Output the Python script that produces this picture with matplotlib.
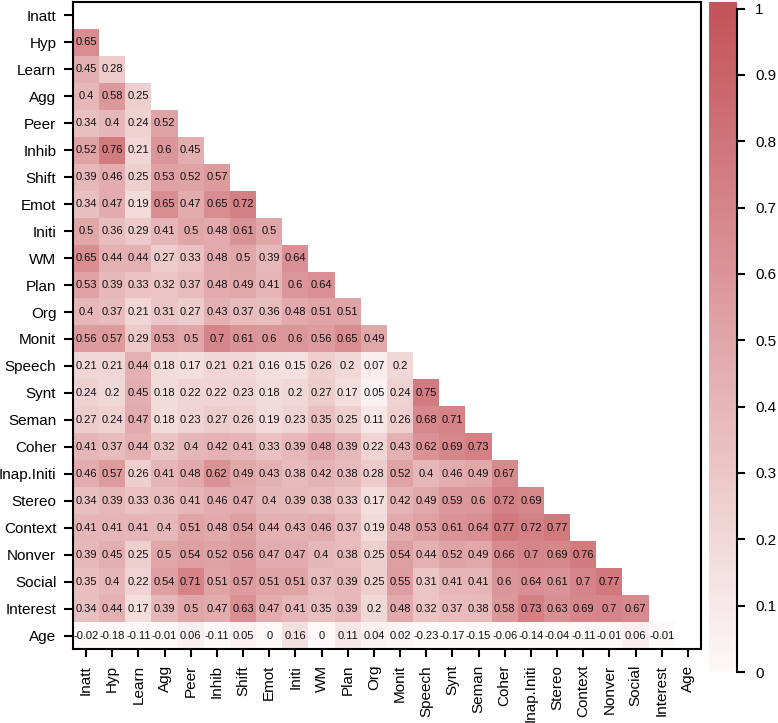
import numpy as np
import matplotlib
matplotlib.use("Agg")
import matplotlib.pyplot as plt
from matplotlib.colors import LinearSegmentedColormap

plt.rcParams['font.family'] = ['Liberation Sans', 'DejaVu Sans']

# 变量名
labels = ["Inatt", "Hyp", "Learn", "Agg", "Peer", "Inhib", "Shift", "Emot",
          "Initi", "WM", "Plan", "Org", "Monit", "Speech", "Synt", "Seman",
          "Coher", "Inap.Initi", "Stereo", "Context", "Nonver", "Social",
          "Interest", "Age"]

# 下三角相关系数（逐行）
lower_rows = [
    [],
    [0.65],
    [0.45, 0.28],
    [0.4, 0.58, 0.25],
    [0.34, 0.4, 0.24, 0.52],
    [0.52, 0.76, 0.21, 0.6, 0.45],
    [0.39, 0.46, 0.25, 0.53, 0.52, 0.57],
    [0.34, 0.47, 0.19, 0.65, 0.47, 0.65, 0.72],
    [0.5, 0.36, 0.29, 0.41, 0.5, 0.48, 0.61, 0.5],
    [0.65, 0.44, 0.44, 0.27, 0.33, 0.48, 0.5, 0.39, 0.64],
    [0.53, 0.39, 0.33, 0.32, 0.37, 0.48, 0.49, 0.41, 0.6, 0.64],
    [0.4, 0.37, 0.21, 0.31, 0.27, 0.43, 0.37, 0.36, 0.48, 0.51, 0.51],
    [0.56, 0.57, 0.29, 0.53, 0.5, 0.7, 0.61, 0.6, 0.6, 0.56, 0.65, 0.49],
    [0.21, 0.21, 0.44, 0.18, 0.17, 0.21, 0.21, 0.16, 0.15, 0.26, 0.2, 0.07, 0.2],
    [0.24, 0.2, 0.45, 0.18, 0.22, 0.22, 0.23, 0.18, 0.2, 0.27, 0.17, 0.05, 0.24, 0.75],
    [0.27, 0.24, 0.47, 0.18, 0.23, 0.27, 0.26, 0.19, 0.23, 0.35, 0.25, 0.11, 0.26, 0.68, 0.71],
    [0.41, 0.37, 0.44, 0.32, 0.4, 0.42, 0.41, 0.33, 0.39, 0.48, 0.39, 0.22, 0.43, 0.62, 0.69, 0.73],
    [0.46, 0.57, 0.26, 0.41, 0.48, 0.62, 0.49, 0.43, 0.38, 0.42, 0.38, 0.28, 0.52, 0.4, 0.46, 0.49, 0.67],
    [0.34, 0.39, 0.33, 0.36, 0.41, 0.46, 0.47, 0.4, 0.39, 0.38, 0.33, 0.17, 0.42, 0.49, 0.59, 0.6, 0.72, 0.69],
    [0.41, 0.41, 0.41, 0.4, 0.51, 0.48, 0.54, 0.44, 0.43, 0.46, 0.37, 0.19, 0.48, 0.53, 0.61, 0.64, 0.77, 0.72, 0.77],
    [0.39, 0.45, 0.25, 0.5, 0.54, 0.52, 0.56, 0.47, 0.47, 0.4, 0.38, 0.25, 0.54, 0.44, 0.52, 0.49, 0.66, 0.7, 0.69, 0.76],
    [0.35, 0.4, 0.22, 0.54, 0.71, 0.51, 0.57, 0.51, 0.51, 0.37, 0.39, 0.25, 0.55, 0.31, 0.41, 0.41, 0.6, 0.64, 0.61, 0.7, 0.77],
    [0.34, 0.44, 0.17, 0.39, 0.5, 0.47, 0.63, 0.47, 0.41, 0.35, 0.39, 0.2, 0.48, 0.32, 0.37, 0.38, 0.58, 0.73, 0.63, 0.69, 0.7, 0.67],
    [-0.02, -0.18, -0.11, -0.01, 0.06, -0.11, 0.05, 0, 0.16, 0, 0.11, 0.04, 0.02, -0.23, -0.17, -0.15, -0.06, -0.14, -0.04, -0.11, -0.01, 0.06, -0.01],
]

n = len(labels)
corr = np.full((n, n), np.nan)
for i, row in enumerate(lower_rows):
    for j, v in enumerate(row):
        corr[i, j] = v

cmap = LinearSegmentedColormap.from_list("wr", ["#fdf9f8", "#c5545a"])
cmap.set_bad("white")

fig = plt.figure(figsize=(7.78, 7.23), dpi=100)
ax = fig.add_axes([73 / 778, 1 - 649 / 723, 628 / 778, 647 / 723])
im = ax.imshow(np.ma.masked_invalid(corr), cmap=cmap, vmin=0, vmax=1,
               aspect="auto", interpolation="nearest")

for i in range(n):
    for j in range(n):
        if not np.isnan(corr[i, j]):
            ax.text(j, i, "{:g}".format(corr[i, j]), ha="center", va="center",
                    fontsize=8, color="#111111")

ax.set_xticks(range(n))
ax.set_yticks(range(n))
ax.set_xticklabels(labels, rotation=90, fontsize=11)
ax.set_yticklabels(labels, fontsize=11)
ax.tick_params(axis="y", length=6.5, width=1.5, pad=5.5)
ax.tick_params(axis="x", length=6, width=1.5, pad=5.5)
for s in ax.spines.values():
    s.set_linewidth(1.5)

# 色条
cax = fig.add_axes([709 / 778, 1 - 672 / 723, 28 / 778, 670 / 723])
grad = np.linspace(0, 1.01, 256).reshape(-1, 1)
cax.imshow(grad, cmap=cmap, vmin=0, vmax=1, aspect="auto", origin="lower",
           extent=(0, 1, 0, 1.01))
cax.set_xlim(0, 1)
cax.set_ylim(0, 1.01)
cax.set_xticks([])
cax.yaxis.tick_right()
cax.set_yticks(np.arange(0, 1.01, 0.1))
cax.set_yticklabels(["0", "0.1", "0.2", "0.3", "0.4", "0.5", "0.6", "0.7", "0.8", "0.9", "1"],
                    fontsize=11)
cax.tick_params(axis="y", length=6, width=1.5, pad=7)
for k in ["left", "top", "bottom"]:
    cax.spines[k].set_visible(False)
cax.spines["right"].set_linewidth(1.5)
cax.spines["right"].set_bounds(0, 1)

fig.savefig("out.png", dpi=100)
